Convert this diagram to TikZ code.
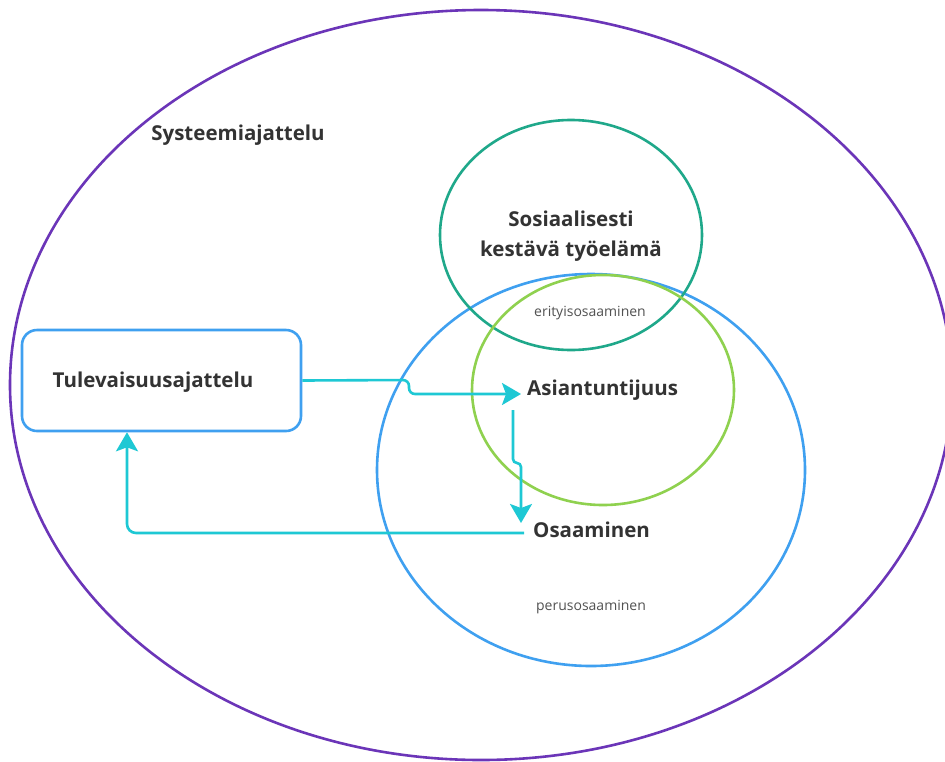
\documentclass[tikz,border=0pt]{standalone}
\usepackage{fontspec}
\setmainfont{Open Sans}
\usetikzlibrary{arrows.meta}
\definecolor{cpurple}{HTML}{6B35B8}
\definecolor{cteal}{HTML}{1FA88A}
\definecolor{cblue}{HTML}{3FA0F0}
\definecolor{cgreen}{HTML}{8FD14F}
\definecolor{ccyan}{HTML}{1EC8D4}
\definecolor{ctext}{HTML}{333333}
\tikzset{
  ring/.style={line width=2.6pt},
  title/.style={font=\fontsize{20.5}{30}\selectfont\bfseries, text=ctext, inner sep=0pt},
  small/.style={font=\fontsize{14}{16}\selectfont, text=ctext!85, inner sep=0pt},
  flow/.style={draw=ccyan, line width=2.6pt, -{Stealth[length=19pt,width=22pt,inset=4pt]}},
  boxstyle/.style={draw=cblue, line width=2.6pt, rounded corners=15pt, minimum width=279pt, minimum height=101pt, inner sep=0pt}
}
\begin{document}
\begin{tikzpicture}[x=1pt,y=-1pt]
\useasboundingbox (0,0) rectangle (945,761);
\clip (0,0) rectangle (945,761);
\fill[white] (0,0) rectangle (945,761);
% rings
\draw[ring, cpurple] (481,385) ellipse [x radius=471pt, y radius=375pt];
\draw[ring, cblue] (591,470) ellipse [x radius=214pt, y radius=196pt];
\draw[ring, cteal] (571,235) ellipse [x radius=131pt, y radius=115pt];
\draw[ring, cgreen] (603,390) ellipse [x radius=131pt, y radius=115pt];
% box
\node[boxstyle] (tul) at (161.5,380.5) {};
\node[title] (tult) at (153,382) {Tulevaisuusajattelu};
% labels
\node[title] (sys) at (238,135) {Systeemiajattelu};
\node[title, align=center] (sos) at (571,236) {Sosiaalisesti\\kestävä työelämä};
\node[small] (eri) at (590,313) {erityisosaaminen};
\node[title, anchor=west] (asi) at (527,390) {Asiantuntijuus};
\node[title, anchor=west] (osa) at (533,530) {Osaaminen};
\node[small] (per) at (591,607) {perusosaaminen};
% connectors
\coordinate (a1) at (409,380);
\coordinate (a2) at (409,394);
\coordinate (a3) at (521,394);
\draw[flow, rounded corners=6pt] (tul.east) -- (a1) -- (a2) -- (a3);
\coordinate (b0) at (513,410);
\coordinate (b1) at (513,463);
\coordinate (b2) at (521,463);
\coordinate (b3) at (521,523);
\draw[flow, rounded corners=4pt] (b0) -- (b1) -- (b2) -- (b3);
\coordinate (c0) at (524,533);
\coordinate (c1) at (127,533);
\draw[flow, rounded corners=9pt] (c0) -- (c1) -- (tul.south -| c1);
\end{tikzpicture}
\end{document}
